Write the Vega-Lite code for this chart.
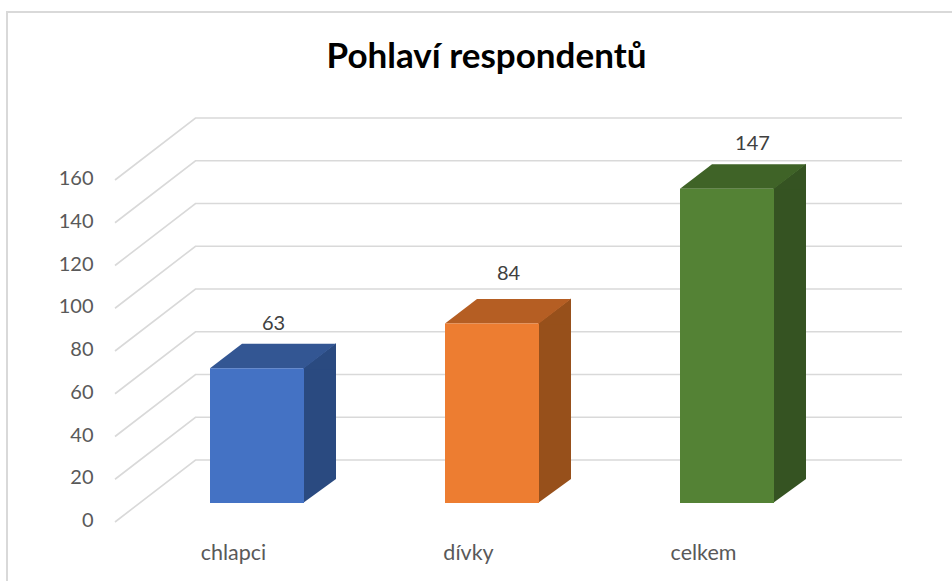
{
"$schema":"https://vega.github.io/schema/vega-lite/v6.json",
"width":705,"height":342,
"autosize":{"type":"none"},
"padding":{"left":116,"top":180,"right":131,"bottom":59},
"background":"#ffffff",
"view":{"stroke":null,"fill":null},
"title":{"text":"Pohlaví respondentů","font":"Lato","fontSize":35,"fontWeight":"bold","color":"#000000","anchor":"middle","dx":18,"offset":-67},
"datasets":{
"bars":[{"kategorie":"chlapci","pocet":63},{"kategorie":"dívky","pocet":84},{"kategorie":"celkem","pocet":147}],
"ticks":[{"t":0},{"t":20},{"t":40},{"t":60},{"t":80},{"t":100},{"t":120},{"t":140},{"t":160}]
},
"data":{"name":"bars"},
"encoding":{
"x":{"field":"kategorie","type":"nominal","sort":null,"scale":{"domain":["chlapci","dívky","celkem"],"paddingInner":0,"paddingOuter":0},
"axis":{"title":null,"domain":false,"ticks":false,"labelAngle":0,"labelFont":"Lato","labelFontSize":21.5,"labelColor":"#595959","labelPadding":20}},
"y":{"field":"pocet","type":"quantitative","scale":{"domain":[0,160],"nice":false},
"axis":{"title":null,"domain":false,"ticks":false,"grid":false,"values":[0,20,40,60,80,100,120,140,160],"labelFont":"Lato","labelFontSize":20,"labelColor":"#595959","labelPadding":23,"labelOffset":-1.5}}
},
"resolve":{"scale":{"color":"independent"}},
"layer":[
{"mark":{"type":"point","shape":"M-226.5,401 L-226.5,-168 L718.5,-168","size":4,"filled":false,"opacity":1,"stroke":"#d9d9d9","strokeWidth":2},
 "encoding":{"x":{"datum":"chlapci"},"y":{"datum":160}}},
{"data":{"name":"ticks"},
 "mark":{"type":"point","shape":"M-118.5,0 L-38,-62 L668.5,-62","size":4,"filled":false,"opacity":1,"stroke":"#d9d9d9","strokeWidth":1.6},
 "encoding":{"x":{"datum":"chlapci"},"y":{"field":"t","type":"quantitative"}}},
{"mark":{"type":"bar","size":33,"xOffset":86,"yOffset":-19,"y2Offset":-43},
 "encoding":{"y":{"field":"pocet","type":"quantitative"},"y2":{"datum":0},
 "color":{"field":"kategorie","type":"nominal","legend":null,"scale":{"domain":["chlapci","dívky","celkem"],"range":["#2a4a80","#97501b","#355322"]}}}},
{"mark":{"type":"point","shape":"M69.5,-19 L102.5,-44 L102.5,-18 L69.5,-18 Z","size":4,"filled":true,"opacity":1},
 "encoding":{"color":{"field":"kategorie","type":"nominal","legend":null,"scale":{"domain":["chlapci","dívky","celkem"],"range":["#2a4a80","#97501b","#355322"]}}}},
{"mark":{"type":"point","shape":"M69.5,-19 L102.5,-43 L69.5,-43 Z","size":4,"filled":true,"opacity":1},
 "encoding":{"y":{"datum":0},"color":{"field":"kategorie","type":"nominal","legend":null,"scale":{"domain":["chlapci","dívky","celkem"],"range":["#2a4a80","#97501b","#355322"]}}}},
{"mark":{"type":"point","shape":"M-23.5,-19 L70.5,-19 L102.5,-43.5 L8.5,-43.5 Z","size":4,"filled":true,"opacity":1},
 "encoding":{"color":{"field":"kategorie","type":"nominal","legend":null,"scale":{"domain":["chlapci","dívky","celkem"],"range":["#335693","#b55e23","#3f6327"]}}}},
{"mark":{"type":"bar","size":94,"xOffset":23.5,"yOffset":-19,"y2Offset":-19},
 "encoding":{"y":{"field":"pocet","type":"quantitative"},"y2":{"datum":0},
 "color":{"field":"kategorie","type":"nominal","legend":null,"scale":{"domain":["chlapci","dívky","celkem"],"range":["#4472c4","#ed7d31","#548235"]}}}},
{"transform":[{"filter":"datum.pocet==63"}],
 "mark":{"type":"text","font":"Lato","fontSize":20,"color":"#404040","xOffset":40,"yOffset":-63},
 "encoding":{"text":{"field":"pocet","type":"quantitative"}}},
{"transform":[{"filter":"datum.pocet==84"}],
 "mark":{"type":"text","font":"Lato","fontSize":20,"color":"#404040","xOffset":40,"yOffset":-68},
 "encoding":{"text":{"field":"pocet","type":"quantitative"}}},
{"transform":[{"filter":"datum.pocet==147"}],
 "mark":{"type":"text","font":"Lato","fontSize":20,"color":"#404040","xOffset":49,"yOffset":-64},
 "encoding":{"text":{"field":"pocet","type":"quantitative"}}}
]
}
